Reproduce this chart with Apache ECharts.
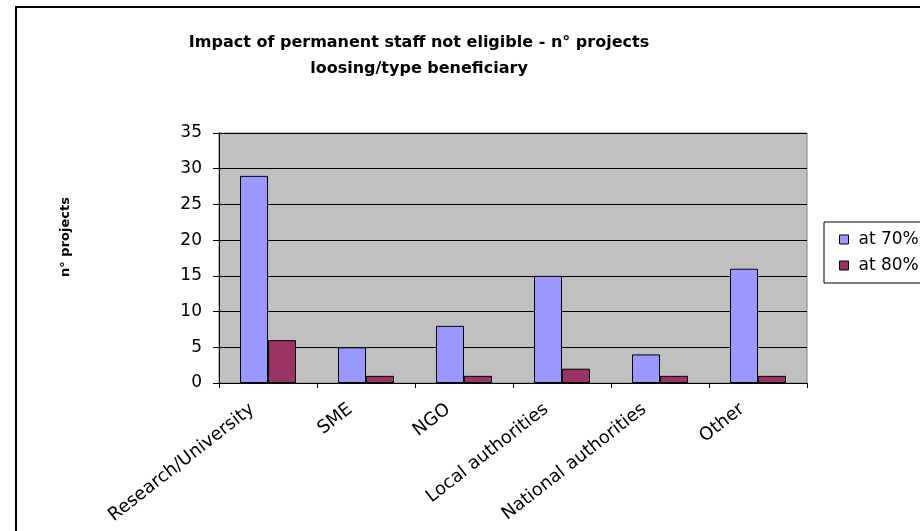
<!DOCTYPE html>
<html><head><meta charset="utf-8">
<script src="https://cdn.jsdelivr.net/npm/echarts@6/dist/echarts.min.js"></script>
<style>html,body{margin:0;padding:0;background:#fff}#c{width:920px;height:531px}</style>
</head><body><div id="c"></div>
<script>
var categories = ['Research/University', 'SME', 'NGO', 'Local authorities', 'National authorities', 'Other'];
var at70 = [29, 5, 8, 15, 4, 16];
var at80 = [6, 1, 1, 2, 1, 1];
var seriesNames = ['at 70%', 'at 80%'];
var yTicks = {min: 0, max: 35, interval: 5};
var titleText = 'Impact of permanent staff not eligible - n° projects\nloosing/type beneficiary';
var yName = 'n° projects';

var FONT = 'DejaVu Sans';
var chart = echarts.init(document.getElementById('c'), null, {renderer: 'canvas'});
chart.setOption({
  backgroundColor: '#fff',
  animation: false,
  title: {
    text: titleText, left: 414, textAlign: 'center', top: 25,
    textStyle: {fontFamily: FONT, fontWeight: 'bold', fontSize: 16, color: '#000', lineHeight: 26}
  },
  graphic: [{type: 'rect', shape: {x: 16, y: 7, width: 1000, height: 1000}, style: {fill: 'none', stroke: '#000', lineWidth: 2}, silent: true}],
  legend: {
    orient: 'vertical', left: 824, top: 222,
    data: seriesNames,
    borderColor: '#000', borderWidth: 1,
    padding: [9, 40, 9, 15],
    itemWidth: 9, itemHeight: 9, itemGap: 9,
    icon: 'rect',
    itemStyle: {borderColor: '#000', borderWidth: 1},
    textStyle: {fontFamily: FONT, fontSize: 17, color: '#000', lineHeight: 16, padding: [0, 0, 0, 5]}
  },
  grid: {
    left: 219, right: 113, top: 133, bottom: 148,
    show: true, backgroundColor: '#C0C0C0', borderColor: '#808080', borderWidth: 1
  },
  xAxis: {
    type: 'category', data: categories,
    axisLine: {lineStyle: {color: '#000', width: 1}},
    axisTick: {show: true, length: 5, lineStyle: {color: '#000'}},
    axisLabel: {rotate: 38, interval: 0, margin: 12, fontFamily: FONT, fontSize: 18, color: '#000', padding: [0, 20, 0, 0]}
  },
  yAxis: {
    type: 'value', min: yTicks.min, max: yTicks.max, interval: yTicks.interval,
    name: yName, nameLocation: 'middle', nameGap: 147, nameRotate: 90,
    nameTextStyle: {fontFamily: FONT, fontWeight: 'bold', fontSize: 13, color: '#000', padding: [0, 0, 0, 42]},
    axisLine: {show: true, lineStyle: {color: '#000', width: 1}},
    axisTick: {show: true, length: 6, lineStyle: {color: '#000'}},
    axisLabel: {margin: 17, fontFamily: FONT, fontSize: 17, color: '#000'},
    splitLine: {show: true, lineStyle: {color: '#000', width: 1}}
  },
  series: [
    {name: seriesNames[0], type: 'bar', data: at70, barWidth: 28, barGap: '0%',
     itemStyle: {color: '#9999FF', borderColor: '#000', borderWidth: 1}},
    {name: seriesNames[1], type: 'bar', data: at80, barWidth: 28, barGap: '0%',
     itemStyle: {color: '#993366', borderColor: '#000', borderWidth: 1}}
  ]
});
</script></body></html>
